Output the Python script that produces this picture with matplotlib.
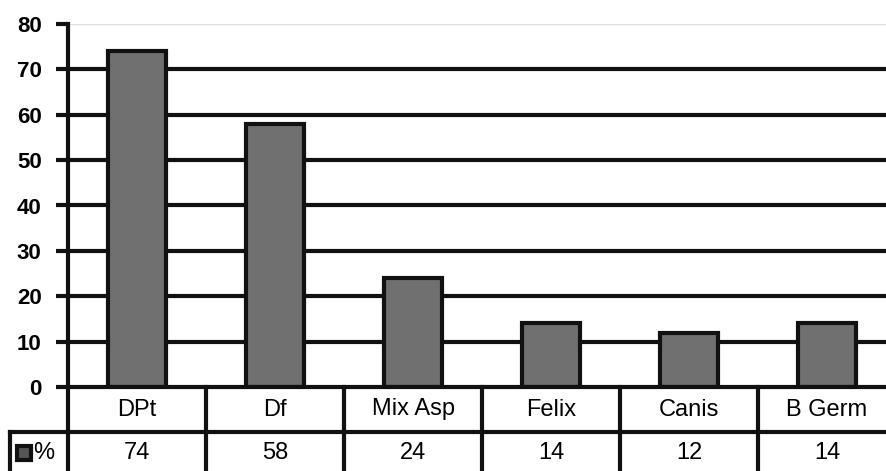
import matplotlib
matplotlib.use("Agg")
import matplotlib.pyplot as plt
from matplotlib.patches import Rectangle

categories = ["DPt", "Df", "Mix Asp", "Felix", "Canis", "B Germ"]
values = [74, 58, 24, 14, 12, 14]
yticks = [0, 10, 20, 30, 40, 50, 60, 70, 80]
series_label = "%"

W, H = 886, 471
fig = plt.figure(figsize=(W / 100, H / 100), dpi=100)
fig.patch.set_facecolor("white")

x0, x_end = 68, 896
y0, ytop = 387, 24
ax = fig.add_axes([x0 / W, (H - y0) / H, (x_end - x0) / W, (y0 - ytop) / H])
ax.set_xlim(0, len(categories))
ax.set_ylim(0, 80)

bar_color = "#707070"
edge = "#111111"
xs = [i + 0.5 for i in range(len(categories))]
ax.bar(xs, values, width=0.42, color=bar_color, edgecolor=edge, linewidth=3, zorder=3)

for t in yticks[1:-1]:
    ax.axhline(t, color=edge, linewidth=3, zorder=1)
ax.axhline(80, color="#dddddd", linewidth=1, zorder=1)

for s in ["top", "right", "bottom"]:
    ax.spines[s].set_visible(False)
ax.spines["left"].set_linewidth(3)
ax.spines["left"].set_color(edge)
ax.set_yticks(yticks)
ax.set_yticklabels([str(t) for t in yticks], fontfamily="Liberation Sans",
                   fontweight="bold", fontsize=16)
ax.tick_params(axis="y", length=9, width=3, color=edge, pad=10)
ax.set_xticks([])

# data table below the axis
ah = y0 - ytop
r1 = -45 / ah
r2 = -95 / ah
tr = ax.get_xaxis_transform()
lw = 3
ax.plot([0, len(categories)], [0, 0], transform=tr, color=edge, lw=lw, clip_on=False, zorder=4)
left_px = 10
left_data = (left_px - x0) / 138.0
ax.plot([left_data, len(categories)], [r1, r1], transform=tr, color=edge, lw=lw, clip_on=False)
ax.plot([left_data, left_data], [r1, r2], transform=tr, color=edge, lw=lw, clip_on=False)
for i in range(len(categories) + 1):
    ax.plot([i, i], [0, r2], transform=tr, color=edge, lw=lw, clip_on=False)

for i, (c, v) in enumerate(zip(categories, values)):
    ax.text(i + 0.5, r1 / 2, c, transform=tr, ha="center", va="center",
            fontfamily="Liberation Sans", fontsize=17, clip_on=False)
    ax.text(i + 0.5, r1 + (r2 - r1) * 0.42, str(v), transform=tr, ha="center", va="center",
            fontfamily="Liberation Sans", fontsize=17, clip_on=False)

# legend key in the header cell
kx = (17 - x0) / 138.0
kw = 14 / 138.0
ky = r1 + (r2 - r1) * 0.42
kh = 14 / ah
ax.add_patch(Rectangle((kx, ky - kh / 2), kw, kh, transform=tr, facecolor="#555555",
                       edgecolor=edge, linewidth=3, clip_on=False))
ax.text((33 - x0) / 138.0, ky, series_label, transform=tr, ha="left", va="center",
        fontfamily="Liberation Sans", fontsize=17, clip_on=False)

fig.savefig("out.png", dpi=100, facecolor="white")
